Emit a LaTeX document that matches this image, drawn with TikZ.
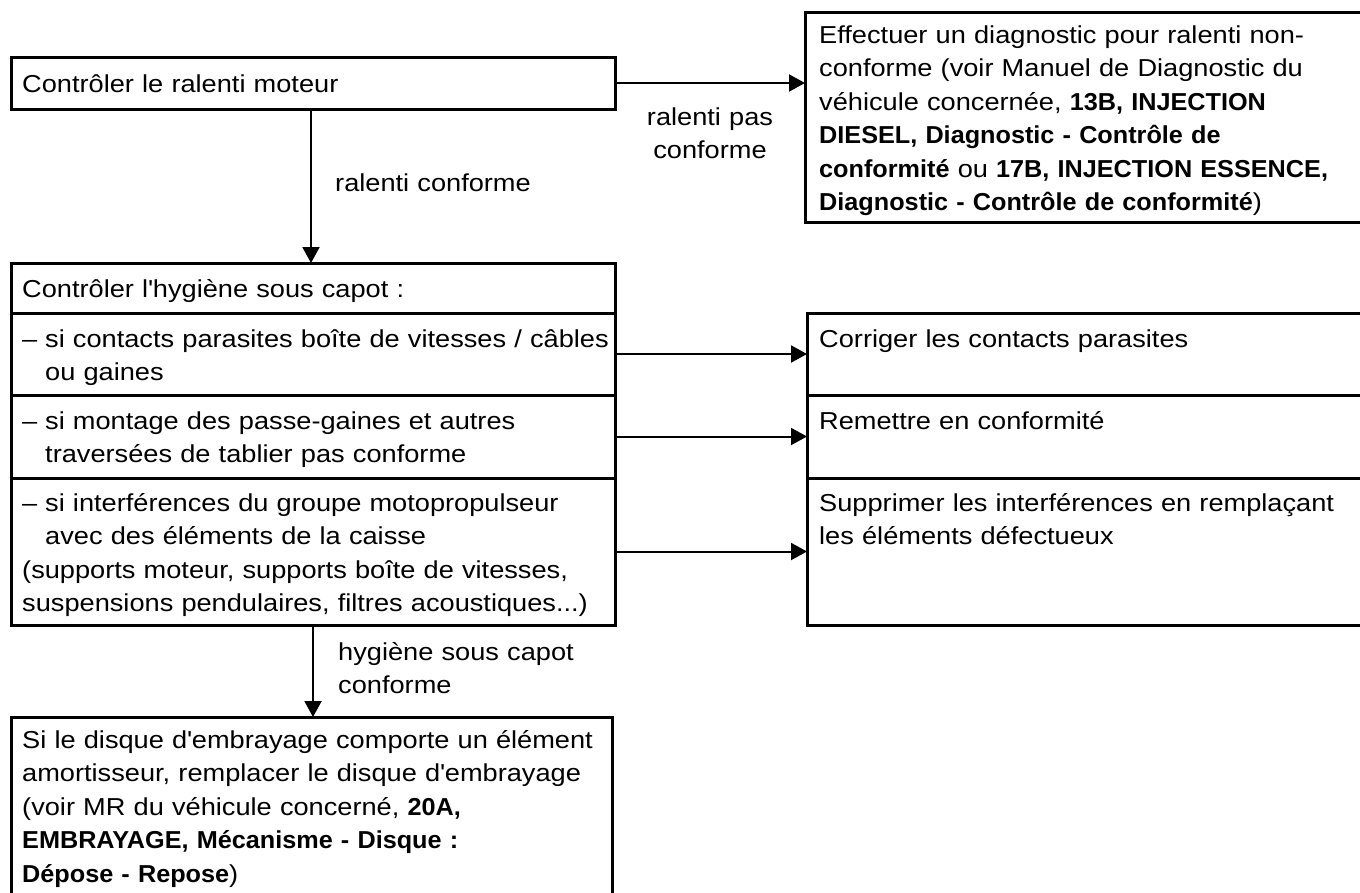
\documentclass[tikz,border=0pt]{standalone}
\usepackage{fontspec}
\setmainfont{Liberation Sans}[FakeStretch=1.11, BoldFeatures={FakeStretch=1.03}]
\usetikzlibrary{arrows.meta}
\newcommand{\fs}{\fontsize{24.5}{33.5}\selectfont}
\newcommand{\dsh}{\makebox[23pt][l]{–}}
\begin{document}
\begin{tikzpicture}[x=1pt,y=-1pt,
  box/.style={draw, line width=3pt, rectangle, inner sep=0pt, outer sep=0pt, anchor=north west},
  txt/.style={anchor=base west, inner sep=0pt, text width=700pt, align=left, font=\fs},
  lbl/.style={anchor=base west, inner sep=0pt, text width=260pt, align=left, font=\fs},
  clbl/.style={anchor=base, inner sep=0pt, text width=180pt, align=center, font=\fs},
  arr/.style={line width=2pt, -{Triangle[length=16pt,width=17pt]}}
]
\clip (0,0) rectangle (1360,892);
% boxes
\node[box, minimum width=604pt, minimum height=52pt] (b1) at (11,57) {};
\node[box, minimum width=600pt, minimum height=210pt] (diag) at (805,12) {};
\node[box, minimum width=604pt, minimum height=50pt] (r0) at (11,263) {};
\node[box, minimum width=604pt, minimum height=82pt] (r1) at (11,313) {};
\node[box, minimum width=604pt, minimum height=83pt] (r2) at (11,395) {};
\node[box, minimum width=604pt, minimum height=147pt] (r3) at (11,478) {};
\node[box, minimum width=600pt, minimum height=82pt] (c1) at (807,313) {};
\node[box, minimum width=600pt, minimum height=83pt] (c2) at (807,395) {};
\node[box, minimum width=600pt, minimum height=147pt] (c3) at (807,478) {};
\node[box, minimum width=601pt, minimum height=220pt] (bot) at (11,717) {};
% texts
\node[txt] (t1) at (22,92) {Contrôler le ralenti moteur};
\node[txt] (tdiag) at (819,43) {Effectuer un diagnostic pour ralenti non-\\conforme (voir Manuel de Diagnostic du\\véhicule concernée, \textbf{13B, INJECTION}\\\textbf{DIESEL, Diagnostic - Contrôle de}\\\textbf{conformité} ou \textbf{17B, INJECTION ESSENCE,}\\\textbf{Diagnostic - Contrôle de conformité})};
\node[txt] (tr0) at (22,297) {Contrôler l\textquotesingle hygiène sous capot :};
\node[txt] (tr1) at (22,347) {\dsh si contacts parasites boîte de vitesses / câbles\\\hspace*{23pt}ou gaines};
\node[txt] (tr2) at (22,429) {\dsh si montage des passe-gaines et autres\\\hspace*{23pt}traversées de tablier pas conforme};
\node[txt] (tr3) at (22,511) {\dsh si interférences du groupe motopropulseur\\\hspace*{23pt}avec des éléments de la caisse\\(supports moteur, supports boîte de vitesses,\\suspensions pendulaires, filtres acoustiques...)};
\node[txt] (tc1) at (819,347) {Corriger les contacts parasites};
\node[txt] (tc2) at (819,429) {Remettre en conformité};
\node[txt] (tc3) at (819,511) {Supprimer les interférences en remplaçant\\les éléments défectueux};
\node[txt] (tbot) at (22,748) {Si le disque d\textquotesingle embrayage comporte un élément\\amortisseur, remplacer le disque d\textquotesingle embrayage\\(voir MR du véhicule concerné, \textbf{20A,}\\\textbf{EMBRAYAGE, Mécanisme - Disque :}\\\textbf{Dépose - Repose})};
% connectors
\coordinate (v1) at (311,0);
\coordinate (v2) at (313,0);
\draw[arr] (b1.east) -- (b1.east -| diag.west);
\draw[arr] (b1.south -| v1) -- (r0.north -| v1);
\draw[arr] (r1.east) -- (c1.west);
\draw[arr] (r2.east) -- (c2.west);
\draw[arr] (r3.east) -- (c3.west);
\draw[arr] (r3.south -| v2) -- (bot.north -| v2);
% labels
\node[clbl] (l1) at (710,125) {ralenti pas\\conforme};
\node[lbl] (l2) at (335,191) {ralenti conforme};
\node[lbl] (l3) at (338,660) {hygiène sous capot\\conforme};
\end{tikzpicture}
\end{document}
